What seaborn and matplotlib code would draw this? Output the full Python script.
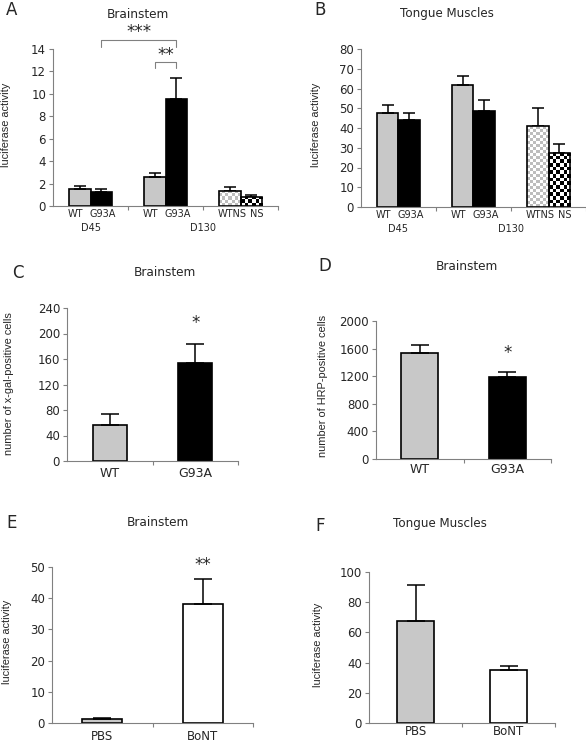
import numpy as np
import pandas as pd
import matplotlib
matplotlib.use("Agg")
import matplotlib.pyplot as plt
import seaborn as sns
from matplotlib.colors import ListedColormap

# ---- data ----
ab_groups = ["D45", "D130", "D130NS"]
ab_labels = ["WT", "G93A", "WT", "G93A", "WTNS", "NS"]

a_left = [1.49, 2.62, 1.37]
a_left_err = [0.32, 0.30, 0.35]
a_right = [1.22, 9.50, 0.83]
a_right_err = [0.30, 1.95, 0.17]

b_left = [47.4, 61.7, 40.9]
b_left_err = [4.4, 4.8, 9.2]
b_right = [44.2, 48.6, 27.5]
b_right_err = [3.2, 5.4, 4.2]

cd_cats = ["WT", "G93A"]
c_vals = [56.6, 153.6]
c_err = [17.3, 29.8]
d_vals = [1542, 1190]
d_err = [106, 73]

ef_cats = ["PBS", "BoNT"]
e_vals = [1.3, 38.0]
e_err = [0.3, 8.0]
f_vals = [67.6, 34.8]
f_err = [24.0, 2.7]

GRAY = "#c8c8c8"
AXC = "#808080"
W, H = 586, 745
# small horizontal nudges (points) for the crowded bar labels in A/B
label_nudge = [-3.5, 1.0, -3.5, 1.0, 1.5, 4.0]

sns.set_theme(style="ticks")
plt.rcParams["font.family"] = ["DejaVu Sans"]

fig = plt.figure(figsize=(W / 100, H / 100), dpi=100)


def px_axes(l, r, t, b):
    return fig.add_axes([l / W, 1 - b / H, (r - l) / W, (b - t) / H])


def ftext(x, y, s, **kw):
    fig.text(x / W, 1 - y / H, s, ha="center", va="center", **kw)


def style(ax, ymax, step, nx, pad):
    ax.set_ylim(0, ymax)
    ax.set_yticks(np.arange(0, ymax + step / 2, step))
    ax.set_xlim(-0.5, nx - 0.5)
    sns.despine(ax=ax)
    for s in ["left", "bottom"]:
        ax.spines[s].set_color(AXC)
        ax.spines[s].set_linewidth(0.8)
    ax.tick_params(axis="y", direction="out", length=3, width=0.8, color=AXC,
                   labelsize=8.5, pad=2)
    ax.set_xticks(np.arange(0.5, nx, 1.0), minor=True)
    ax.tick_params(axis="x", which="minor", length=3, width=0.8, color=AXC)
    ax.tick_params(axis="x", which="major", length=0, labelsize=9, pad=pad)
    ax.set_xlabel("")
    ax.set_ylabel("")


def checker(ax, patch, c1, c2, cell):
    x0, y0 = patch.get_x(), patch.get_y()
    w, h = patch.get_width(), patch.get_height()
    p0 = ax.transData.transform((x0, y0))
    p1 = ax.transData.transform((x0 + w, y0 + h))
    nx = max(1, int(round(abs(p1[0] - p0[0]) / cell)))
    ny = max(1, int(round(abs(p1[1] - p0[1]) / cell)))
    grid = np.indices((ny, nx)).sum(axis=0) % 2
    im = ax.imshow(grid, extent=(x0, x0 + w, y0, y0 + h), origin="lower",
                   cmap=ListedColormap([c1, c2]), aspect="auto",
                   interpolation="nearest", zorder=patch.get_zorder() + 0.1)
    im.set_clip_path(patch)
    patch.set_facecolor("none")
    patch.set_zorder(patch.get_zorder() + 0.2)


def err(ax, patch, e, cap):
    cx = patch.get_x() + patch.get_width() / 2
    ax.errorbar(cx, patch.get_height(), yerr=[[0], [e]], fmt="none", ecolor="black",
                elinewidth=1.1, capsize=cap, capthick=1.1, zorder=1)


def grouped(ax, left, left_err, right, right_err, ymax, step):
    df = pd.DataFrame({
        "group": ab_groups * 2,
        "slot": ["L"] * 3 + ["R"] * 3,
        "value": left + right,
    })
    sns.barplot(data=df, x="group", y="value", hue="slot", hue_order=["L", "R"],
                order=ab_groups, width=0.57, gap=0, dodge=True, errorbar=None,
                palette=[GRAY, "black"], edgecolor="black", linewidth=1.2,
                legend=False, ax=ax)
    style(ax, ymax, step, 3, 0)
    ax.set_xticks([])
    bars = list(ax.containers[0]) + list(ax.containers[1])
    errs = left_err + right_err
    for p, e in zip(bars, errs):
        err(ax, p, e, 4.5)
    left_bars, right_bars = list(ax.containers[0]), list(ax.containers[1])
    checker(ax, left_bars[2], "white", "#bdbdbd", 3.0)
    checker(ax, right_bars[2], "white", "black", 3.6)
    ax.set_xlim(-0.5, 2.5)
    ax.set_ylim(0, ymax)
    ordered = []
    for lb, rb in zip(left_bars, right_bars):
        ordered += [lb, rb]
    for p, lab, dx in zip(ordered, ab_labels, label_nudge):
        cx = p.get_x() + p.get_width() / 2
        ax.annotate(lab, xy=(cx, 0), xycoords=("data", "axes fraction"),
                    xytext=(dx, -5.5), textcoords="offset points",
                    ha="center", va="center", fontsize=7)
    for lab, gx in [("D45", 0.0), ("D130", 1.5)]:
        ax.annotate(lab, xy=(gx, 0), xycoords=("data", "axes fraction"),
                    xytext=(0, -15.5), textcoords="offset points",
                    ha="center", va="center", fontsize=7)
    return left_bars, right_bars


def simple(ax, cats, vals, errs, colors, ymax, step, pad, width):
    sns.barplot(x=cats, y=vals, hue=cats, palette=colors, width=width,
                edgecolor="black", linewidth=1.2, legend=False, errorbar=None, ax=ax)
    style(ax, ymax, step, 2, pad)
    bars = [c[0] for c in ax.containers]
    for p, e in zip(bars, errs):
        err(ax, p, e, 6.5)
    return bars


def ylab(x, y, s):
    fig.text(x / W, 1 - y / H, s, rotation=90, ha="center", va="center",
             fontsize=7.9, family=["Liberation Sans", "DejaVu Sans"])


# ---- A ----
axA = px_axes(53, 278, 49, 206)
lA, rA = grouped(axA, a_left, a_left_err, a_right, a_right_err, 14, 2)
c = lambda p: p.get_x() + p.get_width() / 2
x1, x2 = c(rA[0]), c(rA[1])
axA.plot([x1, x1, x2, x2], [14.2, 14.8, 14.8, 14.2], color=AXC, lw=0.8, clip_on=False)
axA.text((x1 + x2) / 2, 15.5, "***", ha="center", va="center", fontsize=12)
x1, x2 = c(lA[1]), c(rA[1])
axA.plot([x1, x1, x2, x2], [12.3, 12.8, 12.8, 12.3], color=AXC, lw=0.8, clip_on=False)
axA.text((x1 + x2) / 2, 13.5, "**", ha="center", va="center", fontsize=12)
ftext(12, 10, "A", fontsize=12)
ftext(138, 14, "Brainstem", fontsize=8.7)
ylab(6, 125, "luciferase activity")

# ---- B ----
axB = px_axes(361, 586, 49, 207)
grouped(axB, b_left, b_left_err, b_right, b_right_err, 80, 10)
ftext(320, 10, "B", fontsize=12)
ftext(447, 14, "Tongue Muscles", fontsize=8.6)
ylab(316, 125, "luciferase activity")

# ---- C ----
axC = px_axes(67, 238, 308, 461)
bC = simple(axC, cd_cats, c_vals, c_err, [GRAY, "black"], 240, 40, 4.5, 0.4)
axC.text(c(bC[1]), 216, "*", ha="center", va="center", fontsize=12)
ftext(18, 273, "C", fontsize=12)
ftext(165, 272, "Brainstem", fontsize=8.7)
ylab(9, 384, "number of x-gal-positive cells")

# ---- D ----
axD = px_axes(376, 551, 321, 459)
bD = simple(axD, cd_cats, d_vals, d_err, [GRAY, "black"], 2000, 400, 3.0, 0.42)
axD.text(c(bD[1]), 1536, "*", ha="center", va="center", fontsize=12)
ftext(325, 266, "D", fontsize=12)
ftext(467, 267, "Brainstem", fontsize=8.7)
ylab(323, 386, "number of HRP-positive cells")

# ---- E ----
axE = px_axes(52, 253, 567, 723)
bE = simple(axE, ef_cats, e_vals, e_err, [GRAY, "white"], 50, 10, 5.0, 0.4)
axE.tick_params(axis="x", which="major", labelsize=8.5)
axE.text(c(bE[1]), 50.6, "**", ha="center", va="center", fontsize=12)
ftext(12, 523, "E", fontsize=12)
ftext(158, 523, "Brainstem", fontsize=8.7)
ylab(7, 642, "luciferase activity")

# ---- F ----
axF = px_axes(369, 555, 572, 723)
simple(axF, ef_cats, f_vals, f_err, [GRAY, "white"], 100, 20, 1.5, 0.4)
axF.tick_params(axis="x", which="major", labelsize=8.5)
ftext(320, 526, "F", fontsize=12)
ftext(440, 523, "Tongue Muscles", fontsize=8.6)
ylab(318, 645, "luciferase activity")

fig.savefig("out.png", dpi=100)
